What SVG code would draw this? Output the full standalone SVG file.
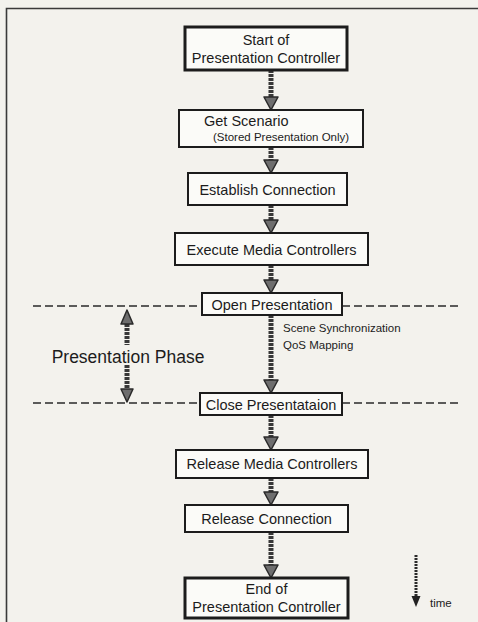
<svg xmlns="http://www.w3.org/2000/svg" width="478" height="622" viewBox="0 0 478 622">
<defs>
<style>
.box{fill:#fbfbf8;stroke:#1c1c1c;stroke-width:2}
.thick{stroke-width:3}
.t{font-family:"Liberation Sans",Arial,sans-serif;font-size:14.5px;fill:#1c1c1c;text-anchor:middle}
.l{text-anchor:start}
.s{font-family:"Liberation Sans",Arial,sans-serif;font-size:11.5px;fill:#1c1c1c}
.shaft{stroke:#383838;stroke-width:5;stroke-dasharray:3 1}
.head{fill:#6e6e6e;stroke:#2a2a2a;stroke-width:1.5;stroke-linejoin:round}
.dash{stroke:#2a2a2a;stroke-width:1.5;stroke-dasharray:8 4;fill:none}
</style>
</defs>
<rect x="0" y="0" width="478" height="622" fill="#f3f2ed"/>
<path d="M6.5,622 V8.5 H478" fill="none" stroke="#3a3a3a" stroke-width="1.6"/>

<g id="connectors">
<line class="shaft" x1="271" y1="70" x2="271" y2="97"/>
<path class="head" d="M264,97 L278,97 L271,110 Z"/>
<line class="shaft" x1="271" y1="147" x2="271" y2="160"/>
<path class="head" d="M264,160 L278,160 L271,173 Z"/>
<line class="shaft" x1="271" y1="205" x2="271" y2="220"/>
<path class="head" d="M264,220 L278,220 L271,233 Z"/>
<line class="shaft" x1="271" y1="265" x2="271" y2="280"/>
<path class="head" d="M264,280 L278,280 L271,293 Z"/>
<line class="shaft" x1="271" y1="315" x2="271" y2="380"/>
<path class="head" d="M264,380 L278,380 L271,393 Z"/>
<line class="shaft" x1="271" y1="415" x2="271" y2="437"/>
<path class="head" d="M264,437 L278,437 L271,450 Z"/>
<line class="shaft" x1="271" y1="478" x2="271" y2="492"/>
<path class="head" d="M264,492 L278,492 L271,505 Z"/>
<line class="shaft" x1="271" y1="532" x2="271" y2="565"/>
<path class="head" d="M264,565 L278,565 L271,578 Z"/>
</g>

<g id="phase-lines">
<line class="dash" x1="33" y1="306" x2="202" y2="306"/>
<line class="dash" x1="342" y1="306" x2="462" y2="306"/>
<line class="dash" x1="33" y1="403" x2="200" y2="403"/>
<line class="dash" x1="342" y1="403" x2="462" y2="403"/>
</g>

<g id="presentation-phase">
<line class="shaft" x1="127" y1="324" x2="127" y2="345"/>
<path class="head" d="M121,324 L133,324 L127,310 Z"/>
<line class="shaft" x1="127" y1="365" x2="127" y2="389"/>
<path class="head" d="M121,389 L133,389 L127,402 Z"/>
<text x="128" y="363" font-family="Liberation Sans, Arial, sans-serif" font-size="17.5" fill="#1c1c1c" text-anchor="middle">Presentation Phase</text>
</g>

<g id="sync-label">
<text class="s" x="283" y="332">Scene Synchronization</text>
<text class="s" x="283" y="349">QoS Mapping</text>
</g>

<g id="time-arrow">
<line x1="416" y1="555" x2="416" y2="596" stroke="#2a2a2a" stroke-width="3" stroke-dasharray="2 1"/>
<path d="M411.5,596 L420.5,596 L416,607 Z" fill="#222"/>
<text class="s" x="430" y="607" font-size="11">time</text>
</g>

<g id="start">
<rect class="box thick" x="185" y="27" width="162" height="43"/>
<text class="t" x="266" y="45">Start of</text>
<text class="t" x="266" y="63">Presentation Controller</text>
</g>
<g id="get-scenario">
<rect class="box" x="179" y="110" width="184" height="37"/>
<text class="t l" x="204" y="126">Get Scenario</text>
<text class="s" x="213" y="141" font-size="11">(Stored Presentation Only)</text>
</g>
<g id="establish">
<rect class="box" x="188" y="173" width="159" height="32"/>
<text class="t" x="267.5" y="195">Establish Connection</text>
</g>
<g id="execute">
<rect class="box" x="175" y="233" width="193" height="32"/>
<text class="t" x="271.5" y="255">Execute Media Controllers</text>
</g>
<g id="open">
<rect class="box" x="202" y="293" width="140" height="22"/>
<text class="t" x="272" y="310">Open Presentation</text>
</g>
<g id="close">
<rect class="box" x="200" y="393" width="142" height="22"/>
<text class="t" x="271" y="410">Close Presentataion</text>
</g>
<g id="release-media">
<rect class="box" x="176" y="450" width="192" height="28"/>
<text class="t" x="272" y="469">Release Media Controllers</text>
</g>
<g id="release-connection">
<rect class="box" x="185" y="505" width="163" height="27"/>
<text class="t" x="266.5" y="524">Release Connection</text>
</g>
<g id="end">
<rect class="box thick" x="185" y="578" width="163" height="40"/>
<text class="t" x="266.5" y="594">End of</text>
<text class="t" x="266.5" y="612">Presentation Controller</text>
</g>
</svg>
